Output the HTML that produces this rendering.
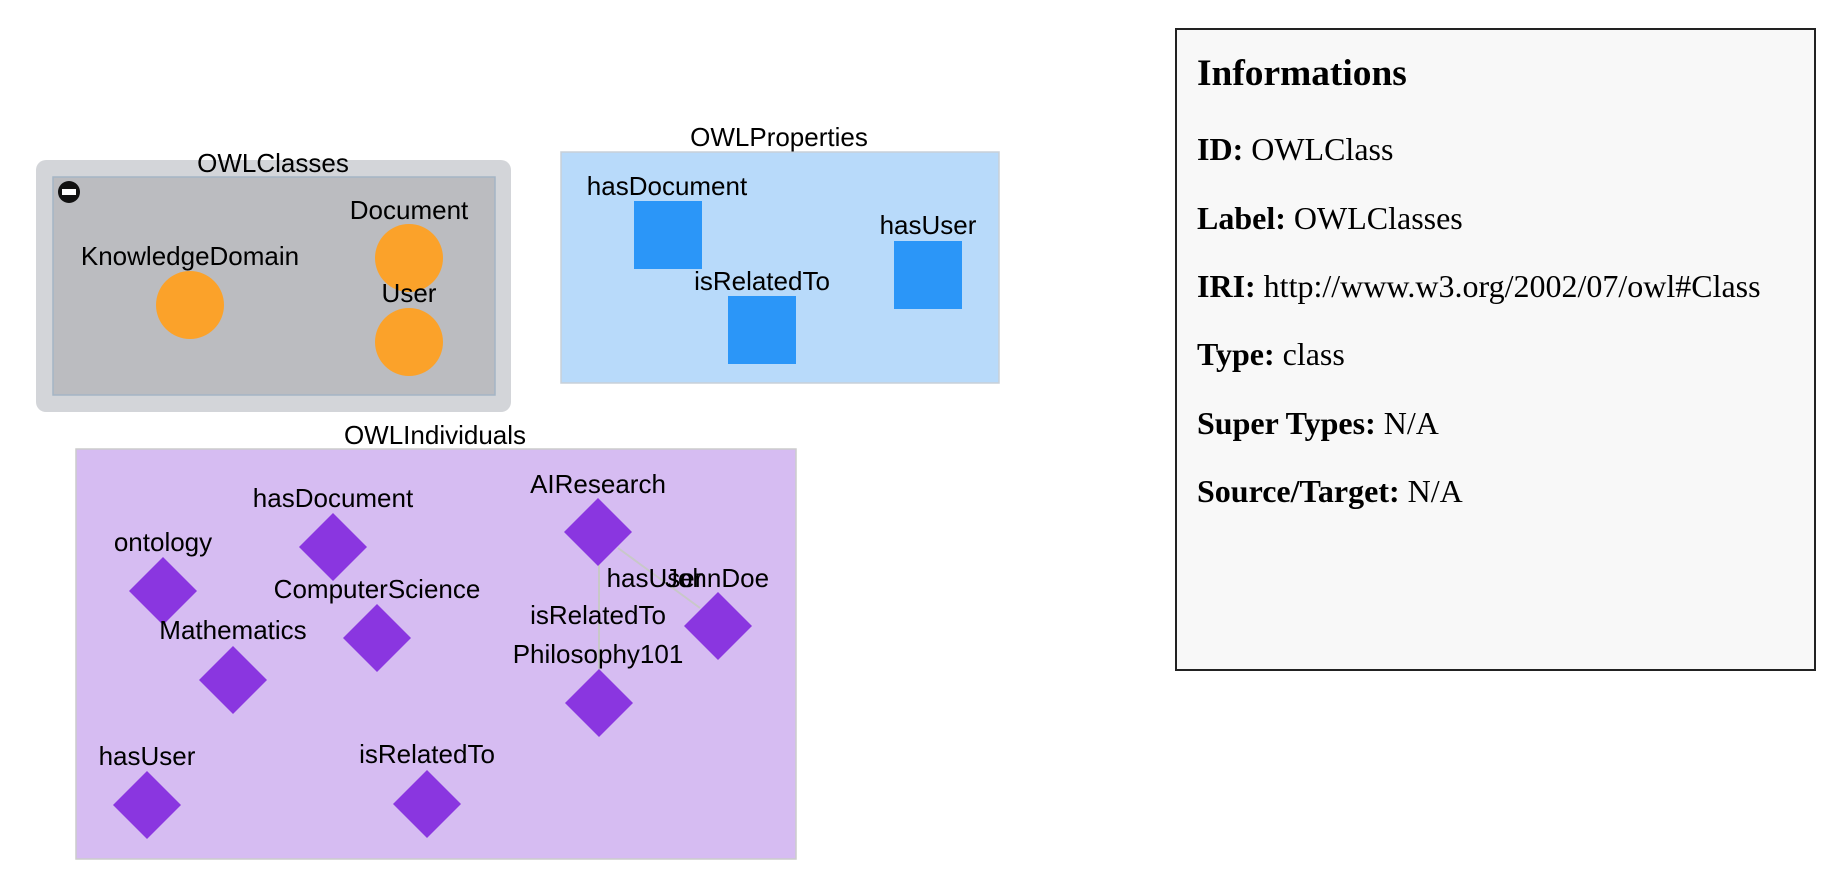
<!DOCTYPE html>
<html><head><meta charset="utf-8"><style>
html,body{margin:0;padding:0;background:#fff;width:1834px;height:892px;overflow:hidden;position:relative}
svg{position:absolute;left:0;top:0}
#info{position:absolute;left:1175px;top:28px;width:641px;height:643px;box-sizing:border-box;border:2px solid #222;background:#f8f8f8;font-family:"Liberation Serif",serif;color:#000}
#info div{position:absolute;left:20px;font-size:32px;white-space:nowrap;line-height:1}
#info h3{position:absolute;left:20px;top:25px;margin:0;font-size:37.4px;line-height:1}
</style></head><body>
<svg width="1834" height="892" viewBox="0 0 1834 892" font-family="Liberation Sans, sans-serif" font-size="26" text-anchor="middle" fill="#000">
<rect x="36" y="160" width="475" height="252" rx="10" fill="#d3d5d9"/>
<rect x="53" y="177" width="442" height="218" fill="#bbbcc0" stroke="#a5b5c5" stroke-width="1.5"/>
<circle cx="69" cy="192" r="11" fill="#111"/>
<rect x="62" y="189" width="14" height="6" fill="#fff"/>
<text x="273" y="172">OWLClasses</text>
<circle cx="190" cy="305" r="34" fill="#fba22a"/>
<circle cx="409" cy="258" r="34" fill="#fba22a"/>
<circle cx="409" cy="342" r="34" fill="#fba22a"/>
<text x="190" y="265">KnowledgeDomain</text>
<text x="409" y="219">Document</text>
<text x="409" y="302">User</text>

<rect x="561" y="152" width="438" height="231" fill="#b8dafa" stroke="#c8d0d8" stroke-width="1.5"/>
<text x="779" y="146">OWLProperties</text>
<rect x="634" y="201" width="68" height="68" fill="#2b96f8"/>
<rect x="728" y="296" width="68" height="68" fill="#2b96f8"/>
<rect x="894" y="241" width="68" height="68" fill="#2b96f8"/>
<text x="667" y="195">hasDocument</text>
<text x="762" y="290">isRelatedTo</text>
<text x="928" y="234">hasUser</text>

<rect x="76" y="449" width="720" height="410" fill="#d6bcf2" stroke="#cccccc" stroke-width="1.5"/>
<text x="435" y="444">OWLIndividuals</text>
<line x1="599" y1="560" x2="599" y2="675" stroke="#c8c8c8" stroke-width="2"/>
<line x1="618" y1="548" x2="700" y2="608" stroke="#c8c8c8" stroke-width="2"/>
<g fill="#8a36e0">
<polygon points="163,557 197,591 163,625 129,591"/>
<polygon points="333,513 367,547 333,581 299,547"/>
<polygon points="377,604 411,638 377,672 343,638"/>
<polygon points="233,646 267,680 233,714 199,680"/>
<polygon points="147,771 181,805 147,839 113,805"/>
<polygon points="427,770 461,804 427,838 393,804"/>
<polygon points="598,498 632,532 598,566 564,532"/>
<polygon points="718,592 752,626 718,660 684,626"/>
<polygon points="599,669 633,703 599,737 565,703"/>
</g>
<text x="163" y="551">ontology</text>
<text x="333" y="507">hasDocument</text>
<text x="377" y="598">ComputerScience</text>
<text x="233" y="639">Mathematics</text>
<text x="147" y="765">hasUser</text>
<text x="427" y="763">isRelatedTo</text>
<text x="598" y="493">AIResearch</text>
<text x="717" y="587">JohnDoe</text>
<text x="655" y="587">hasUser</text>
<text x="598" y="624">isRelatedTo</text>
<text x="598" y="663">Philosophy101</text>
</svg>
<div id="info">
<h3>Informations</h3>
<div style="top:103px"><b>ID:</b> OWLClass</div>
<div style="top:172px"><b>Label:</b> OWLClasses</div>
<div style="top:240px"><b>IRI:</b> http://www.w3.org/2002/07/owl#Class</div>
<div style="top:308px"><b>Type:</b> class</div>
<div style="top:377px"><b>Super Types:</b> N/A</div>
<div style="top:445px"><b>Source/Target:</b> N/A</div>
</div>
</body></html>
